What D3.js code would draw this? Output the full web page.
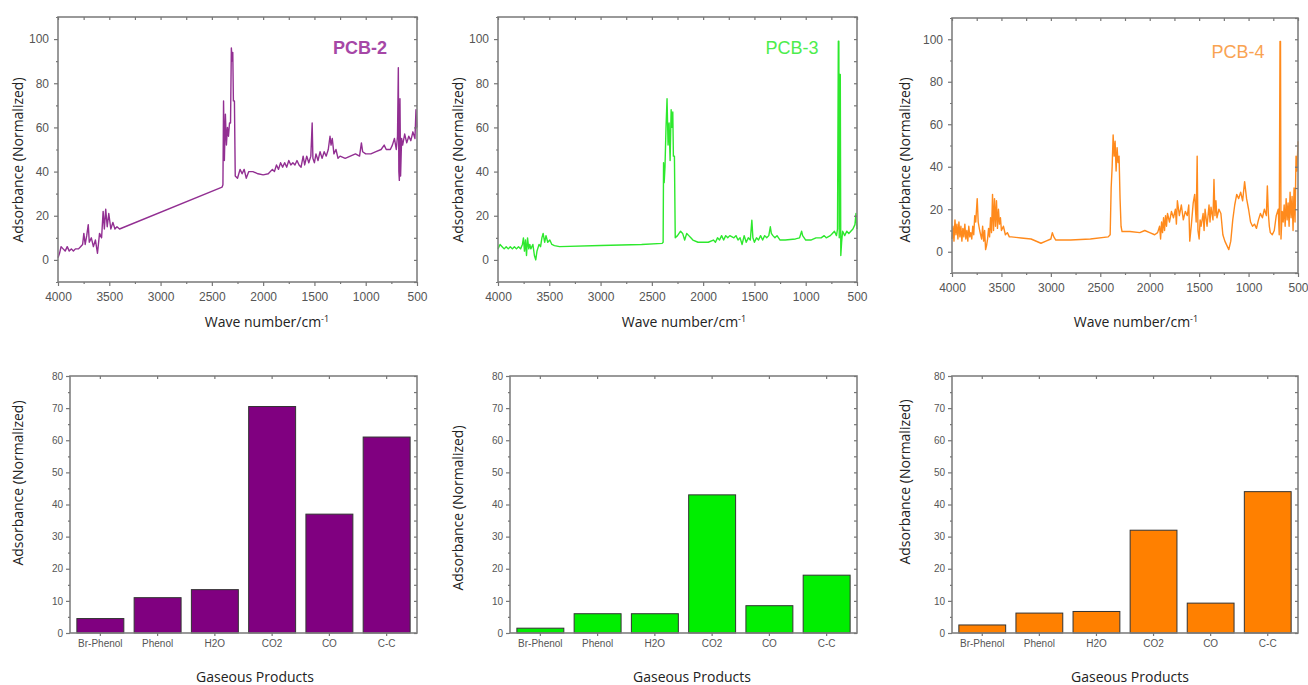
<!DOCTYPE html>
<html>
<head>
<meta charset="utf-8">
<script src="https://cdn.jsdelivr.net/npm/d3@7"></script>
<style>
body { margin: 0; background: #fff; }
svg { display: block; }
text { font-family: "Open Sans", "Liberation Sans", Arial, sans-serif; }
</style>
</head>
<body>
<div class="viz"></div>
<script>
const width = 1308;
const height = 685;

// FTIR spectra, [wave number, absorbance]
const pcb2Spectrum = [
  [4000,1],[3985,3],[3970,6],[3950,5],[3930,4],[3910,6],[3890,4],[3870,5],[3850,4],[3830,5],
  [3800,5],[3780,6],[3760,7],[3748,12],[3735,7],[3720,11],[3705,16],[3695,8],[3675,10],[3655,6],
  [3635,9],[3615,3],[3595,12],[3575,10],[3560,22],[3548,14],[3535,23],[3520,15],[3505,21],[3485,14],
  [3465,17],[3445,14],[3425,15],[3400,14],[2400,33],[2392,34],[2386,72],[2378,45],[2368,66],[2358,52],
  [2348,60],[2338,56],[2328,62],[2318,62],[2310,96],[2302,90],[2296,94],[2290,72],[2280,72],[2272,38],
  [2250,37],[2225,41],[2205,39],[2185,41],[2165,37],[2140,40],[2100,40],[2050,39],[2000,38.5],[1950,39],
  [1910,41],[1890,40],[1870,43],[1850,41],[1830,44],[1810,42],[1790,44],[1770,42],[1750,45],[1730,43],
  [1710,44],[1690,43],[1670,45],[1650,43],[1630,42],[1610,47],[1595,43],[1575,47],[1555,44],[1535,47],
  [1522,62],[1515,46],[1500,44],[1485,48],[1465,45],[1445,49],[1425,46],[1405,49],[1385,47],[1365,50],
  [1348,56],[1338,52],[1326,55],[1310,48],[1290,50],[1270,46],[1250,47],[1200,46],[1150,47],[1100,48],
  [1060,47],[1042,53],[1030,49],[1000,48],[950,48],[900,49],[850,50],[820,52],[800,50],[760,50],
  [740,52],[720,55],[702,50],[690,56],[682,87],[677,40],[672,36],[666,73],[660,38],[650,55],
  [640,52],[620,57],[600,53],[580,56],[560,54],[540,58],[520,55],[510,68],[500,60]
];
const pcb3Spectrum = [
  [4000,5],[3980,7],[3960,6],[3940,5],[3920,6],[3900,5],[3880,6],[3860,5],[3840,6],[3820,5],
  [3800,6],[3780,5],[3762,7],[3752,10],[3742,4],[3732,9],[3722,2],[3712,10],[3700,5],[3690,7],
  [3680,5],[3660,7],[3645,2],[3632,0],[3620,4],[3600,7],[3585,6],[3572,10],[3560,12],[3545,8],
  [3532,11],[3515,8],[3495,9],[3475,7],[3450,6.5],[3400,6],[3000,6.5],[2600,7],[2400,7.5],[2390,8],
  [2386,44],[2380,35],[2372,42],[2362,60],[2352,73],[2342,52],[2332,62],[2322,45],[2312,68],[2302,60],
  [2296,67],[2290,47],[2280,47],[2272,10],[2250,11],[2220,13],[2200,12],[2180,9],[2160,12],[2140,11],
  [2120,10],[2100,9],[2050,8],[2000,8],[1950,8],[1900,9],[1880,8],[1860,10],[1840,9],[1820,11],
  [1800,9],[1780,11],[1760,10],[1740,11],[1700,10],[1680,11],[1660,9],[1640,10],[1620,7],[1600,11],
  [1580,8],[1560,10],[1540,9],[1525,18],[1515,10],[1500,8],[1480,10],[1460,9],[1440,11],[1420,9],
  [1400,11],[1380,10],[1360,11],[1345,15],[1335,12],[1320,11],[1300,10],[1280,11],[1250,9],[1200,9],
  [1100,9.5],[1060,10],[1040,13],[1030,11],[1000,9],[950,9],[900,10],[850,10],[820,11],[800,10],
  [760,11],[740,12],[720,13],[700,11],[690,14],[682,99],[677,99],[673,10],[669,84],[663,84],
  [658,2],[650,8],[640,13],[620,11],[600,13],[580,12],[560,13],[540,14],[520,16],[510,21],[500,14]
];
const pcb4Spectrum = [
  [4000,6],[3990,12],[3980,5],[3970,15],[3960,8],[3950,13],[3940,6],[3930,14],[3920,7],[3910,12],
  [3900,5],[3890,11],[3880,7],[3870,13],[3860,6],[3850,10],[3840,5],[3830,12],[3820,7],[3810,9],
  [3800,6],[3790,12],[3780,8],[3770,17],[3760,14],[3745,25],[3735,14],[3720,10],[3700,6],[3690,12],
  [3680,5],[3670,10],[3660,1],[3650,3],[3640,6],[3630,11],[3620,7],[3610,16],[3600,9],[3590,27],
  [3580,10],[3570,25],[3560,12],[3550,24],[3540,11],[3530,20],[3520,13],[3510,16],[3500,10],[3480,12],
  [3460,8],[3440,9],[3420,7],[3400,7],[3300,6.5],[3200,6],[3100,4],[3050,5],[3000,6],[2985,9],
  [2970,7],[2950,5.5],[2800,5.5],[2600,6],[2420,7],[2400,8],[2390,30],[2380,40],[2370,55],[2360,45],
  [2350,52],[2340,38],[2330,49],[2320,42],[2310,45],[2300,25],[2290,12],[2280,9.5],[2200,9.5],[2100,9],
  [2050,10],[2000,9],[1950,8],[1920,9],[1900,12],[1890,6],[1880,14],[1870,9],[1860,16],[1850,10],
  [1840,17],[1830,12],[1820,18],[1800,14],[1780,19],[1760,16],[1740,20],[1730,13],[1720,24],[1700,17],
  [1680,22],[1660,15],[1640,19],[1620,17],[1605,22],[1595,5],[1580,12],[1560,23],[1545,27],[1530,14],
  [1520,45],[1512,10],[1500,6],[1490,15],[1480,12],[1460,18],[1450,10],[1440,20],[1420,12],[1400,22],
  [1390,14],[1380,21],[1360,15],[1350,34],[1340,17],[1330,24],[1320,16],[1300,20],[1280,18],[1260,8],
  [1240,5],[1220,3],[1200,1],[1180,5],[1160,15],[1140,22],[1120,27],[1100,25],[1080,28],[1060,24],
  [1040,33],[1020,25],[1000,20],[980,14],[960,12],[940,13],[920,11],[900,15],[880,18],[860,16],
  [840,20],[820,17],[810,31],[800,18],[790,12],[780,9],[760,8],[740,10],[720,17],[700,20],
  [690,8],[682,99],[677,99],[672,6],[660,19],[650,14],[640,22],[630,12],[620,25],[610,15],
  [600,23],[590,12],[580,28],[570,16],[560,26],[550,10],[540,30],[530,14],[520,45],[510,38],[500,52]
];

// gaseous products, bar heights
const products = ["Br-Phenol", "Phenol", "H2O", "CO2", "CO", "C-C"];
const pcb2Bars = [4.5, 11, 13.5, 70.5, 37, 61];
const pcb3Bars = [1.5, 6, 6, 43, 8.5, 18];
const pcb4Bars = [2.5, 6.2, 6.7, 32, 9.3, 44];

const samples = ["PCB-2", "PCB-3", "PCB-4"];
const waveTicks = [4000, 3500, 3000, 2500, 2000, 1500, 1000, 500];
const waveMinor = [3750, 3250, 2750, 2250, 1750, 1250, 750];
const absTicks = [0, 20, 40, 60, 80, 100];
const absMinor = [-10, 10, 30, 50, 70, 90, 110];
const barTicks = [0, 10, 20, 30, 40, 50, 60, 70, 80];
const barMinor = [5, 15, 25, 35, 45, 55, 65, 75];

const spectra = [pcb2Spectrum, pcb3Spectrum, pcb4Spectrum];
const bars = [pcb2Bars, pcb3Bars, pcb4Bars];
const lineColors = ["#922f92", "#2de82d", "#ff8a1c"];
const barColors = ["#800080", "#00ee00", "#ff8000"];
const labelColors = ["#a647a6", "#4ded4d", "#f9a352"];

// panel frames (lx/ly = where the sample label sits)
const topFrames = [
  { x0: 58, x1: 417, y0: 17, y1: 282, yt: 160, xt: 267, lx: 360, ly: 54 },
  { x0: 498, x1: 857, y0: 17, y1: 282, yt: 160, xt: 684, lx: 792, ly: 54 },
  { x0: 952, x1: 1298, y0: 18, y1: 273, yt: 160, xt: 1136, lx: 1238, ly: 58 }
];
const botFrames = [
  { x0: 70, x1: 417, y0: 376, y1: 633, yt: 483, xt: 255 },
  { x0: 510, x1: 857, y0: 376, y1: 633, yt: 508, xt: 692 },
  { x0: 952, x1: 1298, y0: 376, y1: 633, yt: 482, xt: 1130 }
];
const yTitleX = [18, 458, 905];

const svg = d3.select(".viz")
  .append("svg")
  .attr("width", width)
  .attr("height", height);

function styleAxis(g, fs) {
  g.select(".domain").remove();
  g.selectAll("line").attr("stroke", "#777").attr("stroke-width", 1.2);
  g.selectAll("text").attr("fill", "#555").style("font-size", fs + "px")
    .style("font-family", "'Liberation Sans', Arial, sans-serif");
}

// spectra row
topFrames.forEach((f, i) => {
  const x = d3.scaleLinear().domain([4000, 500]).range([f.x0, f.x1]);
  const y = d3.scaleLinear().domain([-10, 110]).range([f.y1, f.y0]);
  const g = svg.append("g");

  const line = d3.line().x(d => x(d[0])).y(d => y(d[1]));
  g.append("path")
    .datum(spectra[i])
    .attr("d", line)
    .attr("fill", "none")
    .attr("stroke", lineColors[i])
    .attr("stroke-width", 1.4)
    .attr("stroke-linejoin", "round");

  g.append("rect")
    .attr("x", f.x0).attr("y", f.y0)
    .attr("width", f.x1 - f.x0).attr("height", f.y1 - f.y0)
    .attr("fill", "none").attr("stroke", "#808080").attr("stroke-width", 1.6);

  g.append("g").attr("transform", `translate(0,${f.y1})`)
    .call(d3.axisBottom(x).tickValues(waveTicks).tickSize(4).tickPadding(6).tickFormat(d3.format("d")))
    .call(a => styleAxis(a, 12));
  g.append("g").attr("transform", `translate(0,${f.y1})`)
    .call(d3.axisBottom(x).tickValues(waveMinor).tickSize(2).tickFormat(""))
    .call(a => styleAxis(a, 12));
  g.append("g").attr("transform", `translate(0,${f.y0})`)
    .call(d3.axisBottom(x).tickValues(waveTicks.concat(waveMinor)).tickSize(3).tickFormat(""))
    .call(a => styleAxis(a, 12));
  g.append("g").attr("transform", `translate(${f.x0},0)`)
    .call(d3.axisLeft(y).tickValues(absTicks).tickSize(4).tickPadding(5))
    .call(a => styleAxis(a, 12));
  g.append("g").attr("transform", `translate(${f.x0},0)`)
    .call(d3.axisLeft(y).tickValues(absMinor).tickSize(2).tickFormat(""))
    .call(a => styleAxis(a, 12));
  g.append("g").attr("transform", `translate(${f.x1},0)`)
    .call(d3.axisLeft(y).tickValues(absTicks.concat(absMinor)).tickSize(3).tickFormat(""))
    .call(a => styleAxis(a, 12));

  g.append("text")
    .attr("x", f.lx).attr("y", f.ly)
    .attr("text-anchor", "middle")
    .attr("fill", labelColors[i])
    .style("font-size", "18px")
    .style("font-family", "'Liberation Sans', Arial, sans-serif")
    .style("font-weight", i === 0 ? "bold" : "normal")
    .text(samples[i]);

  const xt = g.append("text")
    .attr("x", f.xt).attr("y", 327)
    .attr("text-anchor", "middle")
    .attr("fill", "#222")
    .style("font-size", "14px");
  xt.append("tspan").text("Wave number/cm");
  xt.append("tspan").attr("dy", -5).style("font-size", "9px").text("-1");

  g.append("text")
    .attr("transform", `translate(${yTitleX[i] + 5},${f.yt}) rotate(-90)`)
    .attr("text-anchor", "middle")
    .attr("fill", "#222")
    .style("font-size", "14px")
    .text("Adsorbance (Normalized)");
});

// bar row
botFrames.forEach((f, i) => {
  const x = d3.scaleBand().domain(products).range([f.x0, f.x1]).paddingInner(0.18).paddingOuter(0.12);
  const y = d3.scaleLinear().domain([0, 80]).range([f.y1, f.y0]);
  const g = svg.append("g");

  g.selectAll(".bar")
    .data(products.map((p, k) => ({ p, v: bars[i][k] })))
    .enter()
    .append("rect")
    .attr("class", "bar")
    .attr("x", d => x(d.p))
    .attr("y", d => y(d.v))
    .attr("width", x.bandwidth())
    .attr("height", d => y(0) - y(d.v))
    .attr("fill", barColors[i])
    .attr("stroke", "#333")
    .attr("stroke-width", 1);

  g.append("rect")
    .attr("x", f.x0).attr("y", f.y0)
    .attr("width", f.x1 - f.x0).attr("height", f.y1 - f.y0)
    .attr("fill", "none").attr("stroke", "#808080").attr("stroke-width", 1.6);

  g.append("g").attr("transform", `translate(0,${f.y1})`)
    .call(d3.axisBottom(x).tickSize(3).tickPadding(4))
    .call(a => styleAxis(a, 10));
  g.append("g").attr("transform", `translate(0,${f.y0})`)
    .call(d3.axisBottom(x).tickSize(3).tickFormat(""))
    .call(a => styleAxis(a, 10));
  g.append("g").attr("transform", `translate(${f.x0},0)`)
    .call(d3.axisLeft(y).tickValues(barTicks).tickSize(4).tickPadding(3))
    .call(a => styleAxis(a, 10));
  g.append("g").attr("transform", `translate(${f.x0},0)`)
    .call(d3.axisLeft(y).tickValues(barMinor).tickSize(2).tickFormat(""))
    .call(a => styleAxis(a, 10));
  g.append("g").attr("transform", `translate(${f.x1},0)`)
    .call(d3.axisLeft(y).tickValues(barTicks.concat(barMinor)).tickSize(3).tickFormat(""))
    .call(a => styleAxis(a, 10));

  g.append("text")
    .attr("x", f.xt).attr("y", f.y1 + 49)
    .attr("text-anchor", "middle")
    .attr("fill", "#222")
    .style("font-size", "14px")
    .text("Gaseous Products");

  g.append("text")
    .attr("transform", `translate(${yTitleX[i] + 5},${f.yt}) rotate(-90)`)
    .attr("text-anchor", "middle")
    .attr("fill", "#222")
    .style("font-size", "14px")
    .text("Adsorbance (Normalized)");
});
</script>
</body>
</html>
